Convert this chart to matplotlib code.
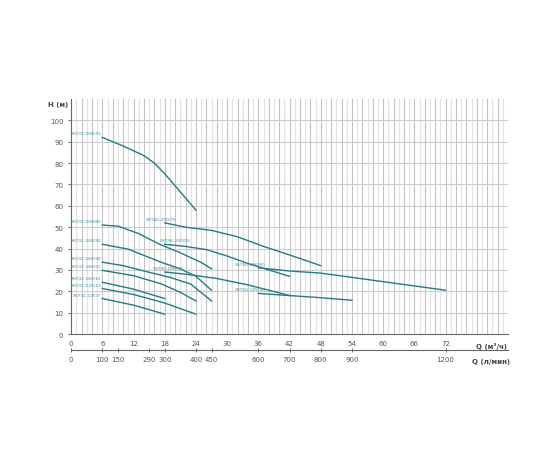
import numpy as np
import matplotlib.pyplot as plt

# pump curves: Q (m3/h) and H (m)
names = ["XST32-200/75", "XST32-200/80", "XST32-200/30", "XST32-160/30",
         "XST32-160/22", "XST32-160/15", "XST32-125/11", "XST32-125/7",
         "XST40-200/75", "XST48-200/55", "XST40-196/30",
         "XST50-196/60", "XST50-125/30"]
q_vals = [
    [6, 10, 14, 16, 18, 24],
    [6, 9, 13, 17, 21, 25, 27],
    [6, 11, 17.4, 21, 24, 27],
    [6, 10, 14, 19, 23, 27],
    [6, 12, 17.4, 21, 24],
    [6, 12, 18],
    [6, 12, 18, 24],
    [6, 12, 18],
    [18, 22, 27, 32, 37, 42, 48],
    [18, 22, 26, 30, 34, 38, 42],
    [18, 22, 28, 34, 38, 42],
    [36, 42, 48, 54, 60, 66, 72],
    [36, 42, 48, 54],
]
h_vals = [
    [92, 88, 83.5, 80, 75, 58],
    [51, 50.5, 47, 42, 38, 33.5, 30.5],
    [42, 39.7, 33.5, 30.5, 27, 20.5],
    [33.6, 32, 29.5, 26.5, 23.4, 15.5],
    [29.8, 27.3, 23.4, 19.5, 15.5],
    [24.2, 21, 16.6],
    [21.3, 18.5, 14.5, 9.3],
    [16.6, 13.5, 9.3],
    [52, 50, 48.5, 45.5, 41, 37, 32],
    [42, 41, 39.5, 36.5, 33, 30, 27],
    [29, 28, 26, 23, 20.5, 18],
    [31, 29.5, 28.5, 26.5, 24.5, 22.5, 20.5],
    [19, 18, 17, 15.8],
]
# label anchor (x position in Q units, horizontal alignment)
label_x = [5.8, 5.8, 5.8, 5.8, 5.8, 5.8, 5.8, 5.8, 17.3, 20.0, 18.7, 34.5, 34.5]
label_ha = ["right"] * 8 + ["center"] * 5

x_ticks = [0, 6, 12, 18, 24, 30, 36, 42, 48, 54, 60, 66, 72]
l_ticks = [0, 100, 150, 250, 300, 400, 450, 600, 700, 800, 900, 1200]
l_tick_labels = ["0", "100", "150", "290", "300", "400", "450", "600", "700", "800", "900", "1200"]
y_ticks = list(range(0, 101, 10))

line_col = "#237b87"
text_col = "#3a8e9c"
tick_col = "#555555"

fig = plt.figure(figsize=(5.6, 4.6), dpi=100)
ax = fig.add_axes([0.127, 0.2717, 0.78, 0.511])
ax.set_xlim(0, 84)
ax.set_ylim(0, 110)

# grid
for i in range(1, 84):
    c = "#c4c4c4" if i % 2 == 0 else "#e2e2e2"
    ax.axvline(i, color=c, lw=0.8, zorder=0)
for v in range(10, 101, 10):
    ax.axhline(v, color="#cccccc", lw=0.8, zorder=0)

for name, qs, hs, lx, ha in zip(names, q_vals, h_vals, label_x, label_ha):
    ax.plot(qs, hs, color=line_col, lw=1.0, zorder=3)
    ax.text(lx, hs[0] + 0.9, name, fontsize=3.2, color=text_col,
            ha=ha, va="bottom", zorder=4)

for s in ["top", "right"]:
    ax.spines[s].set_visible(False)
for s in ["left", "bottom"]:
    ax.spines[s].set_color("#666666")
    ax.spines[s].set_linewidth(0.8)

ax.set_xticks(x_ticks)
ax.set_yticks(y_ticks)
ax.tick_params(axis="both", labelsize=5, colors=tick_col, length=2, width=0.6)
ax.tick_params(axis="x", length=0, pad=4)

sec = ax.secondary_xaxis(-0.067, functions=(lambda q: q * 100 / 6, lambda l: l * 6 / 100))
sec.set_xticks(l_ticks, l_tick_labels)
sec.spines["bottom"].set_color("#666666")
sec.spines["bottom"].set_linewidth(0.8)
sec.tick_params(labelsize=5, colors=tick_col, length=2.5, width=0.6, direction="inout", pad=3)

ax.text(80.8, -5.5, "Q (м³/ч)", fontsize=5, fontweight="bold", color="#444444",
        ha="center", va="center", clip_on=False)
ax.text(80.8, -12.7, "Q (л/мин)", fontsize=5, fontweight="bold", color="#444444",
        ha="center", va="center", clip_on=False)
ax.text(-2.5, 107.5, "H (м)", fontsize=5, fontweight="bold", color="#444444",
        ha="center", va="center", clip_on=False)

fig.savefig("out.png", dpi=100)
